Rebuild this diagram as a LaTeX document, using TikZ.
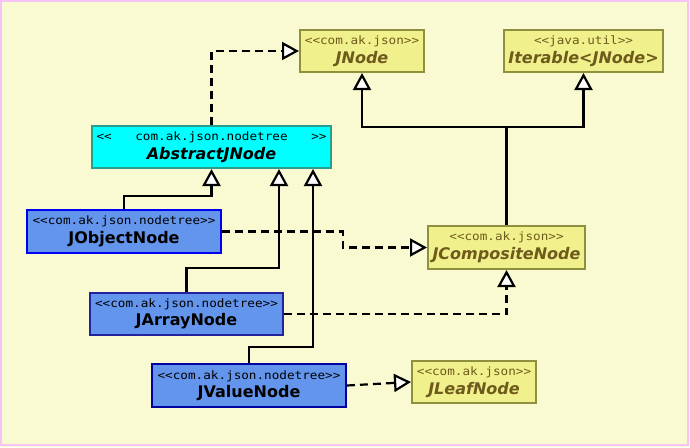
\documentclass[tikz,border=0pt]{standalone}
\usepackage{fontspec}
\setmainfont{DejaVu Sans}
\newfontfamily\stereofont[FakeStretch=1.1]{DejaVu Sans Mono}
\usetikzlibrary{arrows.meta}

\definecolor{bgyellow}{HTML}{FAFAD2}
\definecolor{pinkline}{HTML}{F5C3F5}
\definecolor{ifill}{HTML}{F0F08C}
\definecolor{iborder}{HTML}{8F8F40}
\definecolor{itext}{HTML}{6E5A1C}
\definecolor{cyanfill}{HTML}{00FFFF}
\definecolor{cyanborder}{HTML}{2A9D8F}
\definecolor{bluefill}{HTML}{6495ED}
\definecolor{objborder}{HTML}{0000F0}
\definecolor{arrborder}{HTML}{2323A0}
\definecolor{valborder}{HTML}{0000A0}

\newcommand\stereo[1]{{\stereofont\fontsize{11.5}{12}\selectfont #1}}
\newcommand\cname[1]{{\fontsize{16}{17}\selectfont\bfseries #1}}
\newcommand\iname[1]{{\fontsize{16}{17}\selectfont\bfseries\itshape #1}}

\begin{document}
\begin{tikzpicture}[x=1pt, y=-1pt,
    classbox/.style={draw, line width=2pt, inner sep=0pt, align=center,
      font=\fontsize{12}{18.5}\selectfont, minimum height=42pt},
    iface/.style={classbox, fill=ifill, draw=iborder, text=itext},
    abstr/.style={classbox, fill=cyanfill, draw=cyanborder},
    concrete/.style={classbox, fill=bluefill},
    extend/.style={line width=2.2pt, -{Triangle[length=17pt, width=18pt, fill=white]}},
    realize/.style={extend, dash pattern=on 8pt off 5pt},
    plainline/.style={line width=2.2pt}]
    \useasboundingbox (0,0) rectangle (690,447);
    % Background and frame
    \fill[bgyellow] (0,0) rectangle (690,447);
    \draw[pinkline, line width=2.5pt] (1.2,1.2) rectangle (688,445);

    % Interfaces
    \node[iface, minimum width=124pt] (jnode) at (362,51)
        {\stereo{<<com.ak.json>>}\\\iname{JNode}};
    \node[iface, minimum width=159pt] (iter) at (583.5,51)
        {\stereo{<<java.util>>}\\\iname{Iterable<JNode>}};
    \node[iface, minimum width=157pt, minimum height=43pt] (comp) at (506.5,247.5)
        {\stereo{<<com.ak.json>>}\\\iname{JCompositeNode}};
    \node[iface, minimum width=124pt] (leaf) at (474,382)
        {\stereo{<<com.ak.json>>}\\\iname{JLeafNode}};

    % Abstract class
    \node[abstr, minimum width=239pt] (abs) at (211.5,147)
        {\stereo{\makebox[230pt]{<<\hfill com.ak.json.nodetree\hfill >>}}\\\iname{AbstractJNode}};

    % Concrete classes
    \node[concrete, draw=objborder, minimum width=194pt, minimum height=43pt] (obj) at (124,231.5)
        {\stereo{<<com.ak.json.nodetree>>}\\\cname{JObjectNode}};
    \node[concrete, draw=arrborder, minimum width=193pt] (arr) at (186.5,314)
        {\stereo{<<com.ak.json.nodetree>>}\\\cname{JArrayNode}};
    \node[concrete, draw=valborder, minimum width=194pt, minimum height=43pt] (val) at (249,385.5)
        {\stereo{<<com.ak.json.nodetree>>}\\\cname{JValueNode}};

    % Generalisation
    \coordinate (fork) at (comp.north |- 0,127);
    \draw[plainline] (comp.north) -- (fork);
    \draw[extend] (fork) -| (jnode.south);
    \draw[extend] (fork) -| (iter.south);
    \draw[extend] (obj.north) -- ++(0,-13) -| (abs.south);
    \draw[extend] (arr.north) -- ++(0,-24) -| ([xshift=67.5pt]abs.south);
    \draw[extend] (val.north) -- ++(0,-16) -| ([xshift=101.5pt]abs.south);

    % Realisation
    \draw[realize] (abs.north) |- (jnode.west);
    \draw[realize] (obj.east) -- ++(121,0) |- (comp.west);
    \draw[realize] (arr.east) -| (comp.south);
    \draw[realize] (val.east) -- (leaf.west);
\end{tikzpicture}
\end{document}
